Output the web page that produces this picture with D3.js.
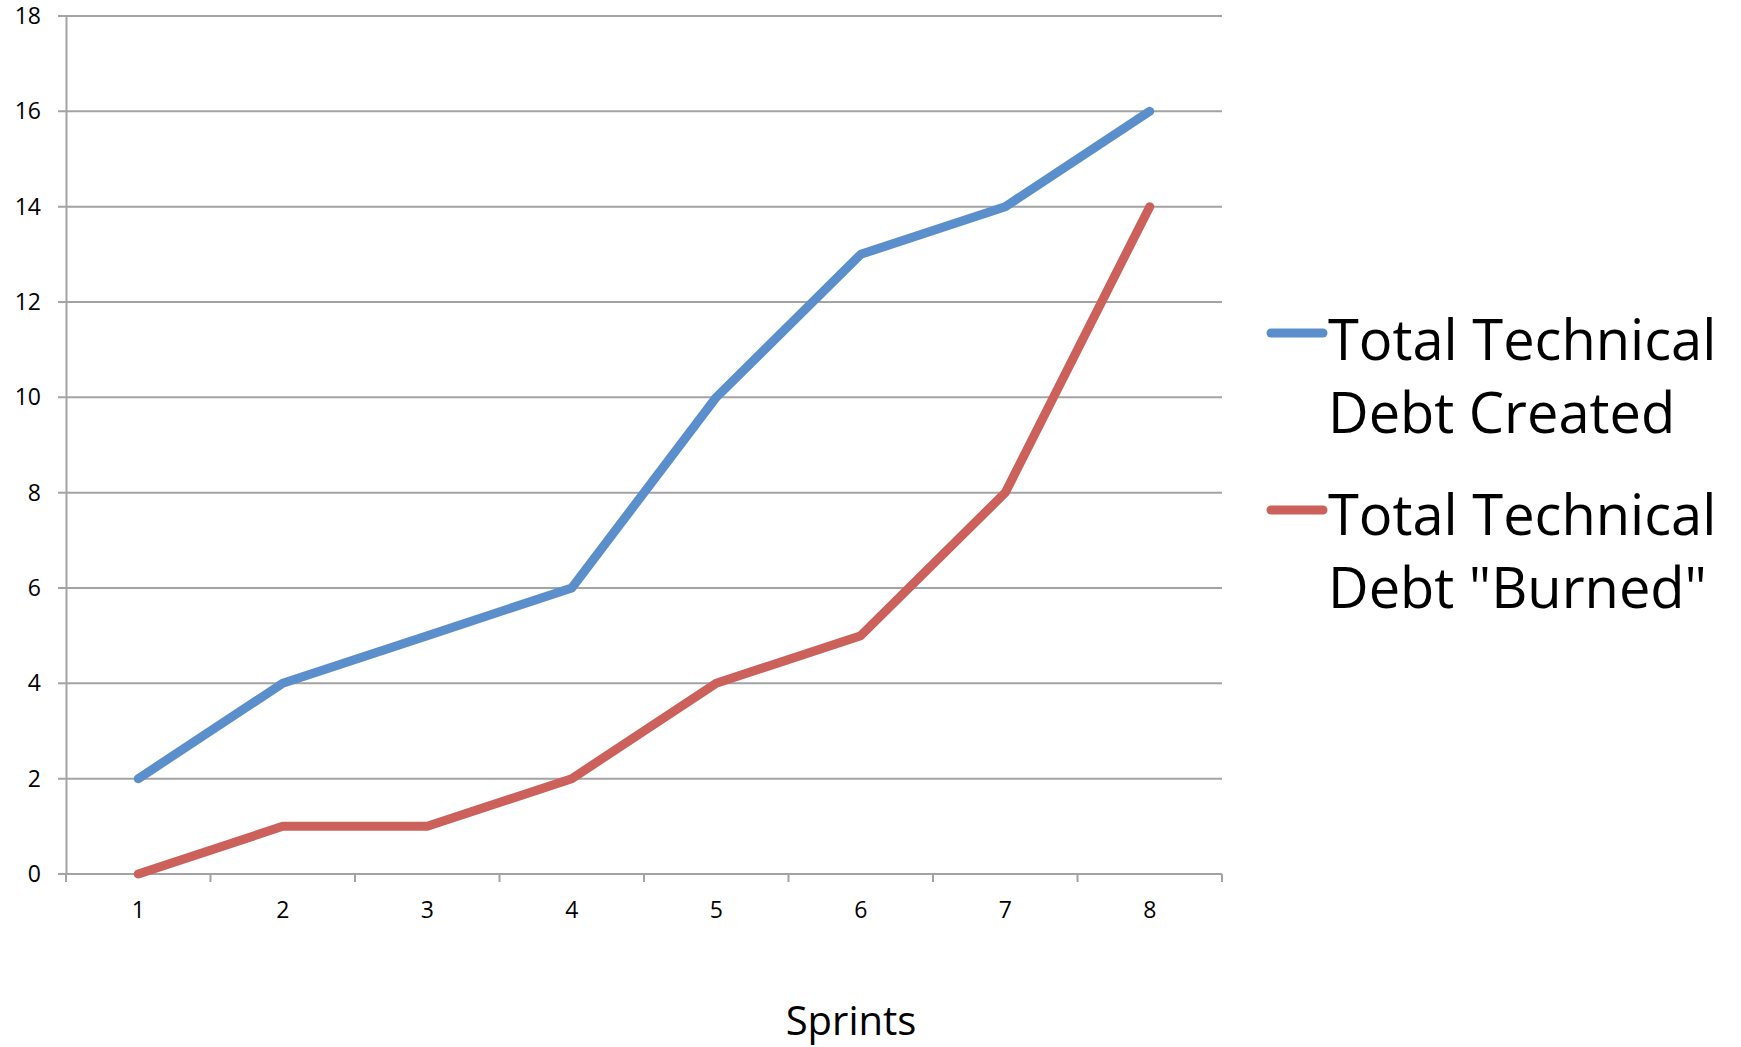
<!DOCTYPE html>
<html>
<head>
<meta charset="utf-8">
<script src="https://cdn.jsdelivr.net/npm/d3@7"></script>
<style>
html,body{margin:0;padding:0;background:#fff;}
svg{display:block;font-family:"Open Sans",sans-serif;}
</style>
</head>
<body>
<svg id="chart" width="1741" height="1047"></svg>
<script>
const categories = ["1","2","3","4","5","6","7","8"];
const createdValues = [2,4,5,6,10,13,14,16];
const burnedValues = [0,1,1,2,4,5,8,14];
const yTicks = [0,2,4,6,8,10,12,14,16,18];
const seriesNames = [["Total Technical","Debt Created"],["Total Technical","Debt \"Burned\""]];
const seriesColors = ["#5B8FCB","#CB615A"];
const xTitle = "Sprints";

(function(){
const svg = d3.select("#chart");
const mLeft = 66, mRight = 1222, mTop = 16, mBottom = 874;

const x = d3.scaleBand().domain(categories).range([mLeft, mRight]).paddingInner(0).paddingOuter(0);
const y = d3.scaleLinear().domain([0, 18]).range([mBottom, mTop]);
const gridColor = "#A3A3A3";

// gridlines
svg.append("g").selectAll("line").data(yTicks).join("line")
  .attr("x1", mLeft - 8).attr("x2", mRight)
  .attr("y1", d => y(d)).attr("y2", d => y(d))
  .attr("stroke", gridColor).attr("stroke-width", 2);

// y axis
const yAxis = d3.axisLeft(y).tickValues(yTicks).tickSize(0).tickPadding(25);
const yg = svg.append("g").attr("transform", `translate(${mLeft},0)`).call(yAxis);
yg.select(".domain").attr("stroke", gridColor).attr("stroke-width", 2);
yg.selectAll("text").attr("font-size", 23).attr("fill", "#000").attr("font-family", "Open Sans");

// x axis
const xAxis = d3.axisBottom(x).tickSize(0).tickPadding(28);
const xg = svg.append("g").attr("transform", `translate(0,${mBottom})`).call(xAxis);
xg.select(".domain").remove();
xg.selectAll("text").attr("font-size", 23).attr("fill", "#000").attr("font-family", "Open Sans");
const bounds = categories.map(c => x(c)).concat([x(categories[categories.length-1]) + x.bandwidth()]);
svg.append("g").selectAll("line").data(bounds).join("line")
  .attr("x1", d => d).attr("x2", d => d)
  .attr("y1", mBottom).attr("y2", mBottom + 8)
  .attr("stroke", gridColor).attr("stroke-width", 2);

// lines
const line = d3.line()
  .x((d, i) => x(categories[i]) + x.bandwidth() / 2)
  .y(d => y(d));
[createdValues, burnedValues].forEach((vals, i) => {
  svg.append("path").datum(vals)
    .attr("d", line)
    .attr("fill", "none")
    .attr("stroke", seriesColors[i])
    .attr("stroke-width", 9)
    .attr("stroke-linecap", "round")
    .attr("stroke-linejoin", "round");
});

// x axis title
svg.append("text").attr("x", 851).attr("y", 1035)
  .attr("text-anchor", "middle").attr("font-size", 40).attr("fill", "#000")
  .text(xTitle);

// legend
const legendItems = [
  {lineY: 333, base: 360},
  {lineY: 510, base: 535}
];
legendItems.forEach((it, i) => {
  svg.append("line").attr("x1", 1271).attr("x2", 1323)
    .attr("y1", it.lineY).attr("y2", it.lineY)
    .attr("stroke", seriesColors[i]).attr("stroke-width", 9)
    .attr("stroke-linecap", "round");
  const t = svg.append("text").attr("x", 1328).attr("y", it.base)
    .attr("font-size", 56).attr("fill", "#000");
  seriesNames[i].forEach((s, j) => {
    t.append("tspan").attr("x", 1328).attr("dy", j === 0 ? 0 : 73).text(s);
  });
});
})();
</script>
</body>
</html>
